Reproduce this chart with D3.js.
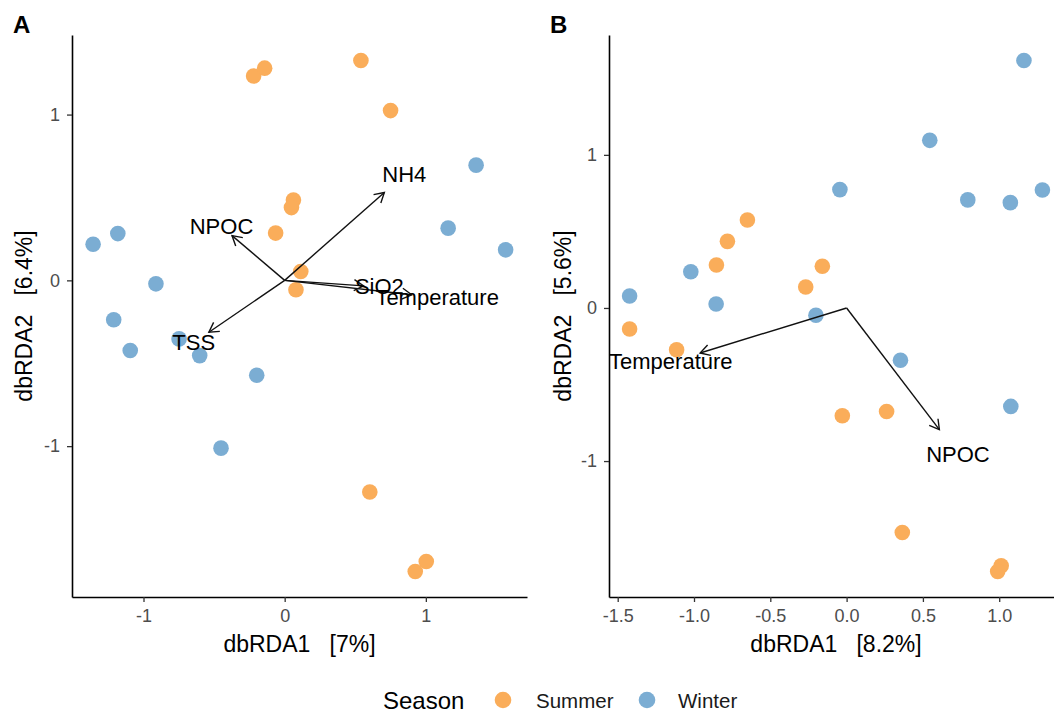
<!DOCTYPE html>
<html>
<head>
<meta charset="utf-8">
<script src="https://cdn.jsdelivr.net/npm/d3@7"></script>
<style>
  html, body { margin: 0; padding: 0; background: #fff; }
  svg { display: block; font-family: "Liberation Sans", Arial, Helvetica, sans-serif; }
</style>
</head>
<body>
<svg id="chart" width="1054" height="713"></svg>
<script>
// dbRDA site scores, panel A
const panelASummer = [
  [-0.22, 1.233], [-0.142, 1.28], [0.54, 1.326], [0.75, 1.024],
  [0.062, 0.484], [0.048, 0.439], [-0.064, 0.285], [0.114, 0.053],
  [0.08, -0.057], [0.603, -1.277], [1.003, -1.696], [0.925, -1.756]
];
const panelAWinter = [
  [-1.357, 0.218], [-1.182, 0.282], [-0.912, -0.021], [1.356, 0.695],
  [1.158, 0.315], [1.565, 0.184], [-1.211, -0.238], [-0.748, -0.353],
  [-1.094, -0.423], [-0.602, -0.454], [-0.198, -0.572], [-0.451, -1.012]
];
// environmental vectors, panel A
const panelAVarNames = ["NH4", "NPOC", "SiO2", "Temperature", "TSS"];
const panelAVarX = [0.706, -0.373, 0.559, 0.900, -0.537];
const panelAVarY = [0.530, 0.270, -0.033, -0.087, -0.313];

// dbRDA site scores, panel B
const panelBSummer = [
  [-0.65, 0.575], [-0.781, 0.435], [-0.853, 0.281], [-0.159, 0.272],
  [-0.268, 0.137], [-1.422, -0.137], [-1.114, -0.273], [-0.028, -0.704],
  [0.262, -0.676], [0.365, -1.467], [1.013, -1.684], [0.99, -1.721]
];
const panelBWinter = [
  [1.162, 1.616], [0.545, 1.095], [-0.044, 0.773], [0.794, 0.706],
  [1.073, 0.688], [1.283, 0.771], [-1.021, 0.237], [-1.422, 0.078],
  [-0.855, 0.026], [-0.201, -0.048], [0.353, -0.342], [1.076, -0.643]
];
// environmental vectors, panel B
const panelBVarNames = ["Temperature", "NPOC"];
const panelBVarX = [-0.96, 0.608];
const panelBVarY = [-0.294, -0.795];

// axis ticks and titles
const panelATicksX = [-1, 0, 1];
const panelATicksY = [-1, 0, 1];
const panelBTicksX = [-1.5, -1.0, -0.5, 0.0, 0.5, 1.0];
const panelBTicksY = [-1, 0, 1];
const panelATitles = { tag: "A", x: "dbRDA1   [7%]", y: "dbRDA2   [6.4%]" };
const panelBTitles = { tag: "B", x: "dbRDA1   [8.2%]", y: "dbRDA2   [5.6%]" };

const seasons = ["Summer", "Winter"];
const seasonColors = ["#FAAD5A", "#7BADD3"];

const svg = d3.select("#chart");

function panel(opts) {
  const { left, right, top, bottom, xDomain, yDomain, summer, winter,
          varNames, varX, varY, ticksX, ticksY, fmtX, titles, tagX, yTitleX } = opts;
  const x = d3.scaleLinear().domain(xDomain).range([left, right]);
  const y = d3.scaleLinear().domain(yDomain).range([bottom, top]);
  const g = svg.append("g");

  // axes
  const xAxis = d3.axisBottom(x).tickValues(ticksX).tickFormat(fmtX)
    .tickSize(5).tickSizeOuter(0).tickPadding(7);
  const yAxis = d3.axisLeft(y).tickValues(ticksY).tickFormat(d => String(d))
    .tickSize(5).tickSizeOuter(0).tickPadding(7);
  const gx = g.append("g").attr("transform", `translate(0,${bottom})`).call(xAxis);
  const gy = g.append("g").attr("transform", `translate(${left},0)`).call(yAxis);
  [gx, gy].forEach(a => {
    a.select(".domain").attr("stroke", "#000").attr("stroke-width", 1.6);
    a.selectAll(".tick line").attr("stroke", "#333").attr("stroke-width", 1.3);
    a.selectAll(".tick text").attr("fill", "#4D4D4D")
      .style("font-size", "18px").style("font-family", "Liberation Sans, Arial, sans-serif");
  });

  // points
  const pts = g.append("g");
  [[summer, 0], [winter, 1]].forEach(([data, i]) => {
    pts.selectAll(null).data(data).enter().append("circle")
      .attr("cx", d => x(d[0])).attr("cy", d => y(d[1])).attr("r", 7.8)
      .attr("fill", seasonColors[i]);
  });

  // vectors with open arrowheads
  const arr = g.append("g").attr("stroke", "#111").attr("stroke-width", 1.4).attr("fill", "none");
  const headLen = 11, headAng = Math.PI / 6;
  varNames.forEach((name, i) => {
    const x0 = x(0), y0 = y(0), x1 = x(varX[i]), y1 = y(varY[i]);
    const a = Math.atan2(y1 - y0, x1 - x0);
    arr.append("line").attr("x1", x0).attr("y1", y0).attr("x2", x1).attr("y2", y1);
    const p1 = [x1 - headLen * Math.cos(a - headAng), y1 - headLen * Math.sin(a - headAng)];
    const p2 = [x1 - headLen * Math.cos(a + headAng), y1 - headLen * Math.sin(a + headAng)];
    arr.append("path").attr("d", `M${p1[0]},${p1[1]}L${x1},${y1}L${p2[0]},${p2[1]}`);
  });
  const labs = g.append("g");
  varNames.forEach((name, i) => {
    labs.append("text")
      .attr("x", x(varX[i] * 1.2)).attr("y", y(varY[i] * 1.2))
      .attr("text-anchor", "middle").attr("dominant-baseline", "central")
      .attr("fill", "#000").style("font-size", "22px").text(name);
  });

  // axis titles
  g.append("text").attr("x", (left + right) / 2).attr("y", 652)
    .attr("text-anchor", "middle").attr("fill", "#000").style("font-size", "23px")
    .style("white-space", "pre").attr("xml:space", "preserve").text(titles.x);
  g.append("text")
    .attr("transform", `translate(${yTitleX},${(top + bottom) / 2}) rotate(-90)`)
    .attr("text-anchor", "middle").attr("fill", "#000").style("font-size", "23px")
    .style("white-space", "pre").attr("xml:space", "preserve").text(titles.y);
  // panel tag
  g.append("text").attr("x", tagX).attr("y", 33).attr("fill", "#000")
    .style("font-size", "24px").style("font-weight", "bold").text(titles.tag);
}

panel({
  left: 72, right: 527, top: 35, bottom: 597,
  xDomain: [-1.5065, 1.7165], yDomain: [-1.91, 1.48],
  summer: panelASummer, winter: panelAWinter,
  varNames: panelAVarNames, varX: panelAVarX, varY: panelAVarY,
  ticksX: panelATicksX, ticksY: panelATicksY, fmtX: d => String(d),
  titles: panelATitles, tagX: 13, yTitleX: 32
});

panel({
  left: 609, right: 1063, top: 35, bottom: 597,
  xDomain: [-1.557, 1.418], yDomain: [-1.888, 1.783],
  summer: panelBSummer, winter: panelBWinter,
  varNames: panelBVarNames, varX: panelBVarX, varY: panelBVarY,
  ticksX: panelBTicksX, ticksY: panelBTicksY, fmtX: d => d.toFixed(1),
  titles: panelBTitles, tagX: 550, yTitleX: 571
});

// legend
const legend = svg.append("g");
const legendY = 700;
legend.append("text").attr("x", 383).attr("y", legendY).attr("dominant-baseline", "central")
  .attr("fill", "#000").style("font-size", "24px").text("Season");
const keyX = [503, 647];
const labelX = [536, 678];
seasons.forEach((s, i) => {
  legend.append("circle").attr("cx", keyX[i]).attr("cy", legendY).attr("r", 8.3)
    .attr("fill", seasonColors[i]);
  legend.append("text").attr("x", labelX[i]).attr("y", legendY).attr("dominant-baseline", "central")
    .attr("fill", "#1A1A1A").style("font-size", "20.5px").text(s);
});
</script>
</body>
</html>
